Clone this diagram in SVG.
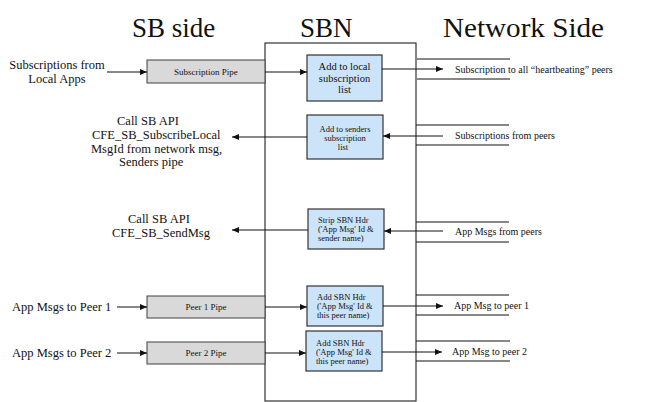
<svg xmlns="http://www.w3.org/2000/svg" width="651" height="402" viewBox="0 0 651 402">
<defs>
<marker id="ah" markerWidth="7" markerHeight="6" refX="7" refY="3" orient="auto" markerUnits="userSpaceOnUse">
<path d="M0,0 L7,3 L0,6 z" fill="#111"/>
</marker>
</defs>
<style>
text{font-family:"Liberation Serif","Times New Roman",serif;fill:#111}
.hd{font-size:27px}
.lb{font-size:12.5px}
.nt{font-size:10px}
.pt{font-size:9px;text-anchor:middle}
.bt{font-size:8.5px}
.pipe{fill:#d9d9d9;stroke:#404040;stroke-width:1}
.box{fill:#cce4fa;stroke:#333;stroke-width:1.2}
.ln{stroke:#111;stroke-width:1;fill:none}
.ar{stroke:#111;stroke-width:1;fill:none;marker-end:url(#ah)}
</style>
<rect width="651" height="402" fill="#fff"/>
<g id="headers">
<text class="hd" x="132" y="37">SB side</text>
<text class="hd" x="300" y="37">SBN</text>
<text class="hd" x="443" y="37" textLength="161" lengthAdjust="spacingAndGlyphs">Network Side</text>
</g>
<g id="sbn">
<rect x="265" y="43" width="151" height="358" fill="#fff" stroke="#333" stroke-width="1.2"/>
</g>
<g id="src-local-apps">
<text class="lb" x="57" y="69" text-anchor="middle">Subscriptions from</text>
<text class="lb" x="57" y="83" text-anchor="middle">Local Apps</text>
</g>
<g id="call-subscribe">
<text class="lb" x="117" y="125">Call SB API</text>
<text class="lb" x="92" y="139">CFE_SB_SubscribeLocal</text>
<text class="lb" x="91" y="153">MsgId from network msg,</text>
<text class="lb" x="119" y="166">Senders pipe</text>
</g>
<g id="call-sendmsg">
<text class="lb" x="128" y="223">Call SB API</text>
<text class="lb" x="112" y="237">CFE_SB_SendMsg</text>
</g>
<g id="src-peer1">
<text class="lb" x="12" y="311">App Msgs to Peer 1</text>
</g>
<g id="src-peer2">
<text class="lb" x="12" y="357">App Msgs to Peer 2</text>
</g>
<g id="subscription-pipe">
<rect class="pipe" x="147" y="60" width="118" height="23"/>
<text class="pt" x="206" y="75">Subscription Pipe</text>
</g>
<g id="peer1-pipe">
<rect class="pipe" x="147" y="296" width="118" height="22"/>
<text class="pt" x="206" y="310">Peer 1 Pipe</text>
</g>
<g id="peer2-pipe">
<rect class="pipe" x="147" y="342" width="118" height="22"/>
<text class="pt" x="206" y="356">Peer 2 Pipe</text>
</g>
<g id="add-local">
<rect class="box" x="307" y="55" width="75" height="46"/>
<text x="344.5" y="70" font-size="10.5" text-anchor="middle">Add to local</text>
<text x="344.5" y="82" font-size="10.5" text-anchor="middle">subscription</text>
<text x="344.5" y="93" font-size="10.5" text-anchor="middle">list</text>
</g>
<g id="add-senders">
<rect class="box" x="307" y="115" width="76" height="44"/>
<text class="bt" x="345" y="132" text-anchor="middle">Add to senders</text>
<text class="bt" x="345" y="141" text-anchor="middle">subscription</text>
<text class="bt" x="343" y="150" text-anchor="middle">list</text>
</g>
<g id="strip-hdr">
<rect class="box" x="308" y="209" width="76" height="40"/>
<text class="bt" x="318" y="223">Strip SBN Hdr</text>
<text class="bt" x="318" y="232">('App Msg' Id &amp;</text>
<text class="bt" x="318" y="241">sender name)</text>
</g>
<g id="add-hdr-1">
<rect class="box" x="307" y="286" width="76" height="40"/>
<text class="bt" x="317" y="300">Add SBN Hdr</text>
<text class="bt" x="317" y="309">('App Msg' Id &amp;</text>
<text class="bt" x="317" y="318">this peer name)</text>
</g>
<g id="add-hdr-2">
<rect class="box" x="306" y="331" width="76" height="40"/>
<text class="bt" x="316" y="346">Add SBN Hdr</text>
<text class="bt" x="316" y="355">('App Msg' Id &amp;</text>
<text class="bt" x="316" y="364">this peer name)</text>
</g>
<g id="net-labels">
<text class="nt" x="455" y="72.5">Subscription to all “heartbeating” peers</text>
<text class="nt" x="455" y="138.5">Subscriptions from peers</text>
<text class="nt" x="455" y="234.5">App Msgs from peers</text>
<text class="nt" x="454" y="308.5">App Msg to peer 1</text>
<text class="nt" x="452" y="354.5">App Msg to peer 2</text>
</g>
<g id="connectors">
<line class="ar" x1="107" y1="72" x2="147" y2="72"/>
<line class="ar" x1="265" y1="72" x2="307" y2="72"/>
<line class="ar" x1="382" y1="69" x2="443" y2="69"/>
<line class="ar" x1="443" y1="136" x2="383" y2="136"/>
<line class="ar" x1="307" y1="137" x2="232" y2="137"/>
<line class="ar" x1="443" y1="231" x2="384" y2="231"/>
<line class="ar" x1="308" y1="230" x2="232" y2="230"/>
<line class="ar" x1="117" y1="307" x2="147" y2="307"/>
<line class="ar" x1="265" y1="307" x2="307" y2="307"/>
<line class="ar" x1="383" y1="306" x2="443" y2="306"/>
<line class="ar" x1="117" y1="353" x2="147" y2="353"/>
<line class="ar" x1="265" y1="353" x2="306" y2="353"/>
<line class="ar" x1="382" y1="352" x2="442" y2="352"/>
<line class="ln" x1="417" y1="59" x2="510" y2="59"/>
<line class="ln" x1="417" y1="79" x2="510" y2="79"/>
<line class="ln" x1="416" y1="125" x2="509" y2="125"/>
<line class="ln" x1="416" y1="145" x2="509" y2="145"/>
<line class="ln" x1="416" y1="222" x2="509" y2="222"/>
<line class="ln" x1="416" y1="242" x2="509" y2="242"/>
<line class="ln" x1="416" y1="295" x2="509" y2="295"/>
<line class="ln" x1="416" y1="315" x2="509" y2="315"/>
<line class="ln" x1="416" y1="341" x2="510" y2="341"/>
<line class="ln" x1="416" y1="361" x2="510" y2="361"/>
</g>
</svg>
